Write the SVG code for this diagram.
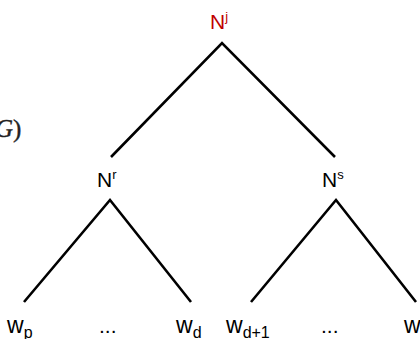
<svg xmlns="http://www.w3.org/2000/svg" width="420" height="339" viewBox="0 0 420 339">
<style>
.lbl{font-family:"Liberation Sans",Arial,sans-serif;font-size:21px;fill:#000}
.leaf{font-size:23px}
.sup{font-size:13px}
.sub{font-size:16px}
.edge{stroke:#000;stroke-width:2.6;fill:none;stroke-linecap:butt;stroke-linejoin:miter}
</style>
<rect width="420" height="339" fill="#fff"/>
<text x="-5" y="137" font-family="Liberation Serif,serif" font-size="25" fill="#222" stroke="#222" stroke-width="0.4"><tspan font-style="italic">G</tspan>)</text>
<g id="connectors">
<polyline class="edge" points="111,157 222,43 335,157"/>
<polyline class="edge" points="24,302 110,200 191,302"/>
<polyline class="edge" points="251,302 336,200 416,302"/>
</g>
<g id="node-Nj"><text class="lbl" x="210" y="29" style="fill:#c00000">N<tspan class="sup" dy="-8">j</tspan></text></g>
<g id="node-Nr"><text class="lbl" x="97" y="187">N<tspan class="sup" dy="-8">r</tspan></text></g>
<g id="node-Ns"><text class="lbl" x="322" y="187">N<tspan class="sup" dy="-8">s</tspan></text></g>
<g id="node-wp"><text class="lbl leaf" x="7" y="333">w<tspan class="sub" dy="5">p</tspan></text></g>
<g id="node-dots1"><text class="lbl" x="99" y="333">...</text></g>
<g id="node-wd"><text class="lbl leaf" x="176" y="333">w<tspan class="sub" dy="5">d</tspan></text></g>
<g id="node-wd1"><text class="lbl leaf" x="226" y="333">w<tspan class="sub" dy="5">d+1</tspan></text></g>
<g id="node-dots2"><text class="lbl" x="321" y="333">...</text></g>
<g id="node-wq"><text class="lbl leaf" x="404" y="333">w</text></g>
</svg>
